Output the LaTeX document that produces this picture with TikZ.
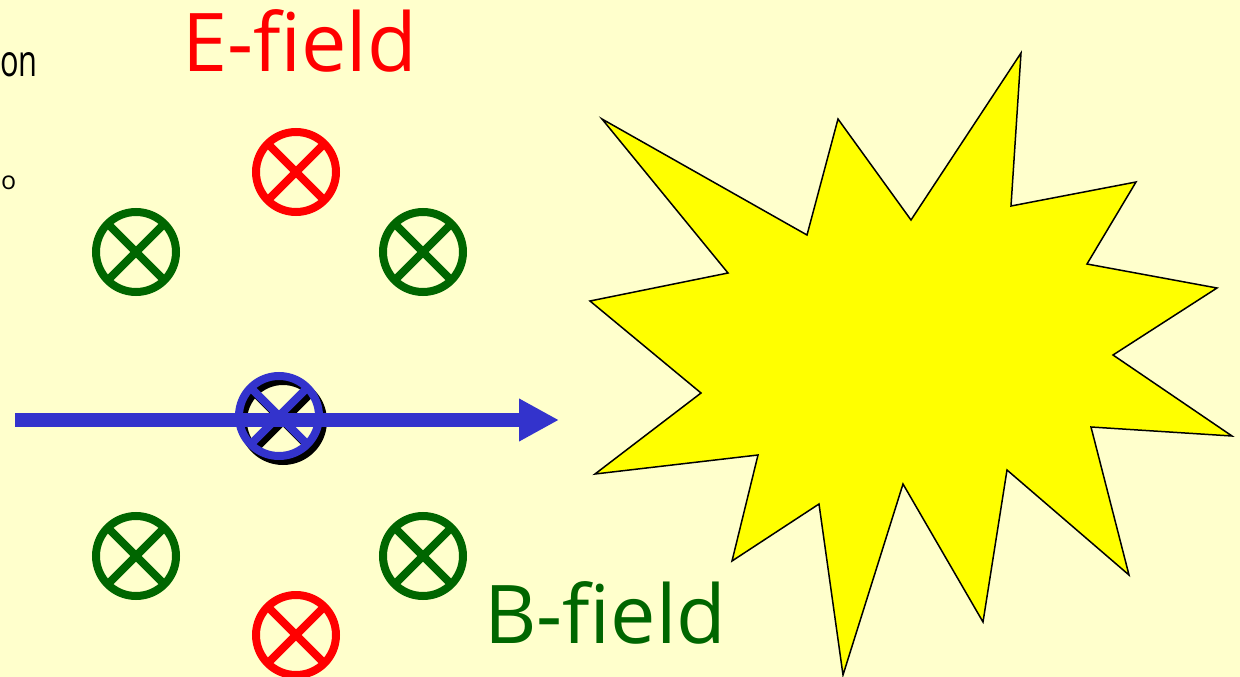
\documentclass[tikz,border=0pt]{standalone}
\usepackage{fontspec}
\setmainfont{Open Sans}
\usetikzlibrary{arrows.meta}
\definecolor{bgc}{HTML}{FFFFCC}
\definecolor{egreen}{HTML}{006600}
\definecolor{ered}{HTML}{FF0000}
\definecolor{eblue}{HTML}{3333CC}
\definecolor{starc}{HTML}{FFFF00}
\tikzset{
  xcirc/.style={circle, minimum size=80pt, inner sep=0pt, line width=8pt, draw=#1,
    path picture={\draw[#1, line width=8pt]
      (path picture bounding box.south west) -- (path picture bounding box.north east)
      (path picture bounding box.north west) -- (path picture bounding box.south east);}},
  lbl/.style={inner sep=0pt, font=\fontsize{81}{92}\selectfont},
  cut/.style={inner sep=0pt, text=black, anchor=base west},
}
\begin{document}
\begin{tikzpicture}[x=1pt,y=-1pt]
\fill[bgc] (0,0) rectangle (1240,677);
\useasboundingbox (0,0) rectangle (1240,677);
\clip (0,0) rectangle (1240,677);
% slide text at left edge
\node[cut, font=\fontsize{44}{50}\selectfont, xscale=0.7] (t1) at (0,77) {on};
\node[cut, font=\fontsize{25}{30}\selectfont] (t2) at (1,189) {o};
% labels
\node[lbl, text=ered, anchor=base west] (elbl) at (182,71) {E-field};
\node[lbl, text=egreen, anchor=base west] (blbl) at (484,643) {B-field};
% field symbols
\node[xcirc=ered] (e1) at (296,172) {};
\node[xcirc=ered] (e2) at (296,635) {};
\node[xcirc=egreen] (g1) at (136,252) {};
\node[xcirc=egreen] (g2) at (423,252) {};
\node[xcirc=egreen] (g3) at (136,556) {};
\node[xcirc=egreen] (g4) at (423,556) {};
\node[xcirc=black] (ps) at (283,421) {};
\node[xcirc=eblue] (p) at (279,416) {};
% beam arrow
\coordinate (a0) at (15,420);
\coordinate (a1) at (559,420);
\draw[eblue, line width=14pt, -{Triangle[length=40pt,width=40pt]}] (a0) -- (a1);
% explosion
\draw[fill=starc, draw=black, line width=1.5pt, line join=miter]
  (602,119) -- (807,235) -- (838,119) -- (911,220) -- (1021,53) -- (1011,206)
  -- (1136,182) -- (1087,264) -- (1217,288) -- (1113,355) -- (1232,436)
  -- (1091,427) -- (1129,575) -- (1007,470) -- (983,622) -- (903,484)
  -- (843,675) -- (819,504) -- (732,561) -- (758,455) -- (595,474)
  -- (701,393) -- (590,301) -- (728,273) -- cycle;
\end{tikzpicture}
\end{document}
